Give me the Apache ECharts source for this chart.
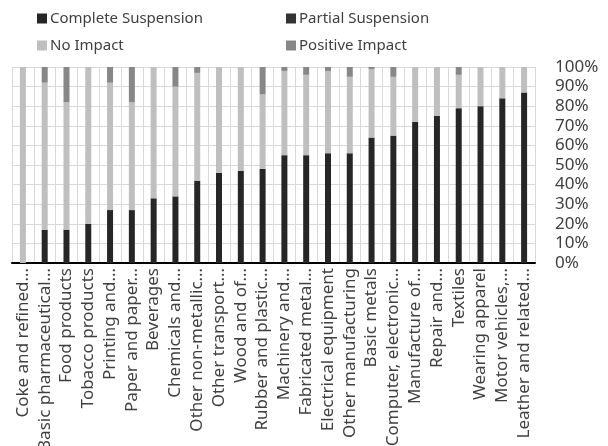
<!DOCTYPE html>
<html>
<head>
<meta charset="utf-8">
<script src="https://cdn.jsdelivr.net/npm/echarts@6/dist/echarts.min.js"></script>
<style>
html,body{margin:0;padding:0;background:#fff;}
#chart{width:608px;height:446px;}
</style>
</head>
<body>
<div id="chart"></div>
<script>
const categories = [
  "Coke and refined…", "Basic pharmaceutical…", "Food products", "Tobacco products",
  "Printing and…", "Paper and paper…", "Beverages", "Chemicals and…",
  "Other non-metallic…", "Other transport…", "Wood and of…", "Rubber and plastic…",
  "Machinery and…", "Fabricated metal…", "Electrical equipment", "Other manufacturing",
  "Basic metals", "Computer, electronic…", "Manufacture of…", "Repair and…",
  "Textiles", "Wearing apparel", "Motor vehicles,…", "Leather and related…"
];
const completeSuspension = [0, 17, 17, 20, 27, 27, 33, 34, 42, 46, 47, 48, 55, 55, 56, 56, 64, 65, 72, 75, 79, 80, 84, 87];
const partialSuspension  = [0, 0, 0, 0, 0, 0, 0, 0, 0, 0, 0, 0, 0, 0, 0, 0, 0, 0, 0, 0, 0, 0, 0, 0];
const noImpact           = [100, 75, 65, 80, 65, 55, 67, 56, 55, 54, 53, 38, 43, 41, 42, 39, 35, 30, 28, 25, 17, 20, 16, 13];
const positiveImpact     = [0, 8, 18, 0, 8, 18, 0, 10, 3, 0, 0, 14, 2, 4, 2, 5, 1, 5, 0, 0, 4, 0, 0, 0];
const yTicks = [0, 10, 20, 30, 40, 50, 60, 70, 80, 90, 100];

const FONT = "Noto Sans";
const TXT = "#404040";
const chart = echarts.init(document.getElementById('chart'));

function mkLegend(name, left, top) {
  return {
    data: [name], left: left, top: top, icon: 'rect', itemWidth: 10, itemHeight: 10, itemGap: 4,
    textStyle: {fontFamily: FONT, fontSize: 15, color: TXT, padding: [0,0,0,-2]}
  };
}

const series = [
  {name: 'Complete Suspension', data: completeSuspension, color: '#262626'},
  {name: 'Partial Suspension', data: partialSuspension, color: '#333333'},
  {name: 'No Impact', data: noImpact, color: '#bfbfbf'},
  {name: 'Positive Impact', data: positiveImpact, color: '#878787'}
].map(s => ({
  name: s.name, type: 'bar', stack: 'all', data: s.data, barWidth: 6,
  itemStyle: {color: s.color}, emphasis: {disabled: true}
}));

chart.setOption({
  animation: false,
  backgroundColor: '#fff',
  legend: [
    mkLegend('Complete Suspension', 32, 6),
    mkLegend('Partial Suspension', 281, 6),
    mkLegend('No Impact', 32, 33),
    mkLegend('Positive Impact', 281, 33)
  ],
  grid: {left: 12, right: 73, top: 67, bottom: 183, containLabel: false, outerBoundsMode: 'none'},
  xAxis: {
    type: 'category', data: categories,
    axisLine: {lineStyle: {color: '#000', width: 2}},
    axisTick: {show: false},
    splitLine: {show: true, interval: 0, lineStyle: {color: '#d9d9d9', width: 1}},
    axisLabel: {interval: 0, rotate: 90, margin: 5, fontFamily: FONT, fontSize: 17, color: TXT}
  },
  yAxis: {
    type: 'value', position: 'right', min: 0, max: 100, interval: 10,
    axisLine: {show: false}, axisTick: {show: false},
    splitLine: {lineStyle: {color: '#d9d9d9', width: 1}},
    axisLabel: {
      margin: 20, fontFamily: FONT, fontSize: 17, color: TXT,
      formatter: v => yTicks.includes(v) ? v + '%' : ''
    }
  },
  series: series
});
</script>
</body>
</html>
